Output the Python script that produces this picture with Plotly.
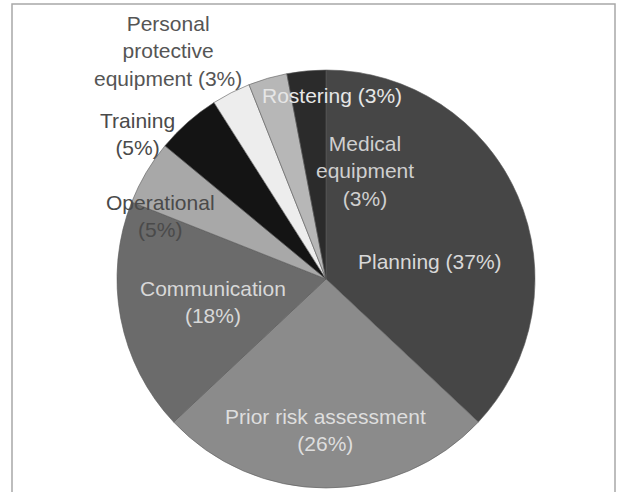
import plotly.graph_objects as go

# ---- data ----
categories = ["Planning", "Prior risk assessment", "Communication", "Operational",
              "Training", "Personal protective equipment", "Rostering", "Medical equipment"]
values = [37, 26, 18, 5, 5, 3, 3, 3]

# ---- styling ----
slice_colors = ["#464646", "#8b8b8b", "#6b6b6b", "#a8a8a8",
                "#141414", "#ededed", "#b7b7b7", "#2b2b2b"]

W, H = 620, 492
cx, cy, r = 326, 279, 209

# label layout: (center x px, center y px, line-break template, text colour)
label_style = {
    "Planning": (430, 261, "{c} ({v}%)", "#d8d8d8"),
    "Prior risk assessment": (325, 430, "{c}<br>({v}%)", "#dedede"),
    "Communication": (213, 302, "{c}<br>({v}%)", "#d8d8d8"),
    "Operational": (160, 216, "{c}<br>({v}%)", "#4a4a4a"),
    "Training": (137, 134, "{c}<br>({v}%)", "#4a4a4a"),
    "Personal protective equipment": (168, 51, "Personal<br>protective<br>equipment ({v}%)", "#555555"),
    "Rostering": (332, 96, "{c} ({v}%)", "#e6e6e6"),
    "Medical equipment": (365, 171, "Medical<br>equipment<br>({v}%)", "#cfcfcf"),
}

fig = go.Figure(go.Pie(
    labels=categories,
    values=values,
    sort=False,
    direction="clockwise",
    rotation=0,
    textinfo="none",
    hoverinfo="label+percent",
    marker=dict(colors=slice_colors, line=dict(color="#5a5a5a", width=0.6)),
    domain=dict(x=[(cx - r) / W, (cx + r) / W], y=[1 - (cy + r) / H, 1 - (cy - r) / H]),
    showlegend=False,
))

annotations = []
for c, v in zip(categories, values):
    x, y, tpl, col = label_style[c]
    annotations.append(dict(
        x=x / W, y=1 - y / H, xref="paper", yref="paper",
        text=tpl.format(c=c, v=v), showarrow=False,
        xanchor="center", yanchor="middle", align="center",
        font=dict(family="Liberation Sans, Arial, sans-serif", size=21, color=col),
    ))

fig.update_layout(
    width=W, height=H,
    margin=dict(l=0, r=0, t=0, b=0),
    paper_bgcolor="white", plot_bgcolor="white",
    annotations=annotations,
    shapes=[dict(type="rect", xref="paper", yref="paper",
                 x0=12 / W, x1=615 / W, y0=-0.05, y1=1 - 4 / H,
                 line=dict(color="#a8a8a8", width=1.5), layer="below")],
)

fig.write_html("out.html")
